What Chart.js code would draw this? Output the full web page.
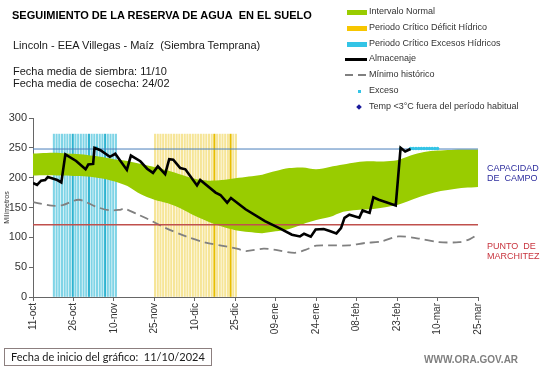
<!DOCTYPE html>
<html lang="es">
<head>
    <meta charset="UTF-8">
    <title>Seguimiento de la reserva de agua en el suelo</title>
    <script src="https://cdn.jsdelivr.net/npm/chart.js@4.4.8/dist/chart.umd.min.js"></script>
    <style>
        html, body {
            margin: 0;
            padding: 0;
            background: #ffffff;
        }
        #wrap {
            position: relative;
            width: 541px;
            height: 368px;
            overflow: hidden;
            font-family: "Liberation Sans", Arial, sans-serif;
            color: #1a1a1a;
        }
        #myChart {
            position: absolute;
            left: 0;
            top: 0;
        }
        .txt {
            position: absolute;
            white-space: nowrap;
        }
        #titulo {
            left: 12px;
            top: 9px;
            font-size: 11px;
            font-weight: bold;
            color: #000;
        }
        #sub {
            left: 13px;
            top: 39px;
            font-size: 11px;
        }
        #fechas {
            left: 13px;
            top: 65px;
            font-size: 11px;
            line-height: 12px;
        }
        #leyenda {
            position: absolute;
            left: 343px;
            top: 4px;
            font-size: 9px;
            color: #333;
            white-space: nowrap;
        }
        .fila {
            position: relative;
            height: 15.8px;
        }
        .fila span.t {
            position: absolute;
            left: 26px;
            top: 2px;
            white-space: nowrap;
        }
        .sw {
            position: absolute;
        }
        .derecha {
            position: absolute;
            left: 487px;
            font-size: 9px;
            line-height: 10px;
            white-space: nowrap;
        }
        #caja {
            position: absolute;
            left: 4px;
            top: 348px;
            width: 200px;
            height: 16px;
            border: 1px solid #8c7f7f;
            font-family: Lato, "Open Sans", sans-serif;
            font-size: 11px;
            line-height: 16px;
            padding-left: 6px;
            white-space: nowrap;
            overflow: hidden;
        }
        #web {
            left: 424px;
            top: 354px;
            font-size: 10px;
            font-weight: bold;
            color: #7f7f7f;
        }
    </style>
</head>
<body>
<div id="wrap">
    <canvas id="myChart" width="541" height="368"></canvas>

    <div class="txt" id="titulo">SEGUIMIENTO DE LA RESERVA DE AGUA&nbsp; EN EL SUELO</div>
    <div class="txt" id="sub">Lincoln - EEA Villegas - Maíz&nbsp; (Siembra Temprana)</div>
    <div class="txt" id="fechas">Fecha media de siembra: 11/10<br>Fecha media de cosecha: 24/02</div>

    <div id="leyenda">
        <div class="fila"><div class="sw" style="left:4px;top:6px;width:20px;height:5px;background:#99cc00"></div><span class="t">Intervalo Normal</span></div>
        <div class="fila"><div class="sw" style="left:4px;top:6px;width:20px;height:5px;background:#f7c600"></div><span class="t">Periodo Crítico Déficit Hídrico</span></div>
        <div class="fila"><div class="sw" style="left:4px;top:6px;width:20px;height:5px;background:#33c4e6"></div><span class="t">Periodo Crítico Excesos Hídricos</span></div>
        <div class="fila"><div class="sw" style="left:2px;top:7px;width:22px;height:2.5px;background:#000"></div><span class="t">Almacenaje</span></div>
        <div class="fila"><div class="sw" style="left:2px;top:7px;width:8px;height:2px;background:#808080"></div><div class="sw" style="left:15px;top:7px;width:8px;height:2px;background:#808080"></div><span class="t">Mínimo histórico</span></div>
        <div class="fila"><div class="sw" style="left:15px;top:7px;width:3px;height:3px;background:#33c4e6"></div><span class="t">Exceso</span></div>
        <div class="fila"><div class="sw" style="left:14px;top:6px;width:4px;height:4px;background:#1a1a9c;transform:rotate(45deg)"></div><span class="t">Temp &lt;3°C fuera del período habitual</span></div>
    </div>

    <div class="derecha" style="top:163px;color:#2e2e9e">CAPACIDAD<br>DE&nbsp; CAMPO</div>
    <div class="derecha" style="top:241px;color:#c8343e">PUNTO&nbsp; DE<br>MARCHITEZ</div>

    <div id="caja">Fecha de inicio del gráfico:&nbsp; 11/10/2024</div>
    <div class="txt" id="web">WWW.ORA.GOV.AR</div>
</div>

<script>

    // eje x: dias desde el 11-oct
    const tickLabels = ['11-oct', '26-oct', '10-nov', '25-nov', '10-dic', '25-dic',
        '09-ene', '24-ene', '08-feb', '23-feb', '10-mar', '25-mar']

    // intervalo normal (banda verde)
    const bandaDias = [0, 5, 10, 15, 20, 25, 30, 35, 40, 45, 50, 55, 60, 65, 70, 75, 80, 85,
        90, 95, 100, 105, 110, 115, 120, 125, 130, 135, 140, 145, 150, 155, 160, 165]
    const bandaSup = [240.5, 241.5, 241.5, 240, 238, 235, 231, 228, 223, 218, 212, 205, 198, 195, 196, 199, 202, 205,
        211, 216, 217, 214, 218, 222, 226, 227.5, 227, 229, 237, 243, 245.5, 246.5, 247, 247]
    const bandaInf = [203.5, 204, 203.5, 203, 202, 199, 194, 186, 172, 163, 157, 148, 136, 126, 118, 112, 109, 107,
        110, 114, 122, 129, 134, 143, 146, 147, 150, 154, 162, 170, 176.5, 180, 183, 184.5]

    // minimo historico
    const minimoDias = [0, 7, 11, 17, 23, 28, 32, 34, 39, 42, 49, 56.5, 64, 71.5, 76, 79, 85.5,
        90, 97, 101, 105, 110, 117, 123, 129, 135.5, 143, 150.5, 158, 162, 165]
    const minimoVal = [159, 153, 154, 163, 152, 145.5, 146, 148, 138, 132, 116, 102, 91, 85, 80.5, 77, 81,
        79, 74, 79, 86, 86.5, 86.5, 90.5, 93, 101.5, 98, 92, 92, 97, 105]

    // almacenaje (linea negra)
    const almDias = [0, 1.5, 3, 4.5, 5.5, 7, 9, 10.5, 12, 16, 19.5, 20.5, 22.3, 22.8, 25, 28.5, 30.5,
        34.8, 36.3, 39.8, 42.3, 44.5, 46.3, 49, 50.5, 52, 54.6, 56.5, 60.8, 62, 67.7, 69.5, 72, 73.4,
        78.8, 86, 91.5, 96, 99, 100.5, 103, 104.8, 107.8, 110, 112.5, 114.2, 115.5, 117.3, 121, 122.2,
        124.8, 126.2, 128.2, 134.5, 136.3, 138, 140]
    const almVal = [191, 188, 195, 196, 201, 199, 196, 192, 239, 228, 214, 222, 223, 250, 246, 235, 240,
        213, 237, 227.5, 215, 208, 219, 206, 231, 230, 216, 214, 187, 196, 175, 171, 158, 166,
        147, 127, 115, 104.5, 101.5, 106, 101, 113, 114, 110.5, 106.5, 115.5, 132.5, 138, 133, 145,
        141, 167, 163, 153.5, 250, 244, 248]

    // exceso (puntos celestes)
    const excesoDias = [23.5, 136.3, 140, 141, 142, 143, 144, 145, 146, 147, 148, 149, 150]
    const excesoVal = [250, 249, 249, 249, 249, 249, 249, 249, 249, 249, 249, 249, 249]

    // periodos criticos (barras)
    const periodoAltura = 273
    const diasExcesos = [8, 9, 10, 11, 12, 13, 14, 15, 16, 17, 18, 19, 20, 21, 22, 23, 24, 25,
        26, 27, 28, 29, 30, 31]
    const diasDeficit = [45, 46, 47, 48, 49, 50, 51, 52, 53, 54, 55, 56, 57, 58, 59, 60, 61, 62,
        63, 64, 65, 66, 67, 68, 69, 70, 71, 72, 73, 74, 75]
    const excesosOscuros = [15, 21, 27]
    const deficitOscuros = [67, 73]

    // referencias
    const capacidadCampo = 248
    const puntoMarchitez = 121
    const diaFin = 165

    const pares = (xs, ys) => xs.map((x, i) => ({x: x, y: ys[i]}))
    const barras = dias => dias.map(d => ({x: d, y: periodoAltura}))

    const ctx = document.getElementById('myChart')
    const chart = new Chart(ctx, {
        type: 'line',
        data: {
            datasets: [
                {
                    label: 'Almacenaje',
                    data: pares(almDias, almVal),
                    borderColor: '#000000',
                    borderWidth: 2.6,
                    pointRadius: 0,
                    tension: 0,
                    order: 0
                },
                {
                    label: 'Exceso',
                    data: pares(excesoDias, excesoVal),
                    showLine: false,
                    pointRadius: 1.8,
                    pointBorderWidth: 0,
                    pointBackgroundColor: '#33c4e6',
                    order: 1
                },
                {
                    label: 'Capacidad de campo',
                    data: [{x: 0, y: capacidadCampo}, {x: diaFin, y: capacidadCampo}],
                    borderColor: '#4a7ebb',
                    borderWidth: 1,
                    pointRadius: 0,
                    order: 2
                },
                {
                    label: 'Punto de marchitez',
                    data: [{x: 0, y: puntoMarchitez}, {x: diaFin, y: puntoMarchitez}],
                    borderColor: '#c0504d',
                    borderWidth: 1.4,
                    pointRadius: 0,
                    order: 3
                },
                {
                    label: 'Mínimo histórico',
                    data: pares(minimoDias, minimoVal),
                    borderColor: '#808080',
                    borderWidth: 1.8,
                    borderDash: [9, 5],
                    pointRadius: 0,
                    tension: 0.3,
                    order: 4
                },
                {
                    label: 'Intervalo Normal',
                    data: pares(bandaDias, bandaSup),
                    borderWidth: 0,
                    borderColor: 'rgba(0,0,0,0)',
                    backgroundColor: '#99cc00',
                    pointRadius: 0,
                    tension: 0.3,
                    fill: '+1',
                    order: 5
                },
                {
                    label: 'inf',
                    data: pares(bandaDias, bandaInf),
                    borderWidth: 0,
                    borderColor: 'rgba(0,0,0,0)',
                    pointRadius: 0,
                    tension: 0.3,
                    fill: false,
                    order: 6
                },
                {
                    type: 'bar',
                    label: 'Periodo Crítico Excesos Hídricos',
                    data: barras(diasExcesos),
                    backgroundColor: c => excesosOscuros.includes(c.raw.x) ? '#2fb3d0' : '#7fd4e6',
                    barThickness: 1.4,
                    order: 7
                },
                {
                    type: 'bar',
                    label: 'Periodo Crítico Déficit Hídrico',
                    data: barras(diasDeficit),
                    backgroundColor: c => deficitOscuros.includes(c.raw.x) ? '#e8be00' : '#f6e597',
                    barThickness: 1.4,
                    order: 8
                }
            ]
        },
        options: {
            responsive: false,
            animation: false,
            layout: {
                padding: {left: 0, top: 118, right: 63, bottom: 0}
            },
            plugins: {
                legend: {display: false},
                tooltip: {enabled: false}
            },
            scales: {
                x: {
                    type: 'linear',
                    min: 0,
                    max: diaFin,
                    offset: false,
                    grid: {
                        drawOnChartArea: false,
                        offset: false,
                        color: '#666',
                        tickLength: 4
                    },
                    border: {color: '#666'},
                    ticks: {
                        stepSize: 15,
                        autoSkip: false,
                        maxRotation: 90,
                        minRotation: 90,
                        padding: 2,
                        color: '#333',
                        font: {family: 'Liberation Sans', size: 10},
                        callback: v => tickLabels[Math.round(v / 15)]
                    },
                    afterFit: s => { s.height = 71 }
                },
                y: {
                    min: 0,
                    max: 300,
                    grid: {
                        drawOnChartArea: false,
                        color: '#666',
                        tickLength: 4
                    },
                    border: {color: '#666'},
                    ticks: {
                        stepSize: 50,
                        padding: 2,
                        color: '#333',
                        font: {family: 'Liberation Sans', size: 11}
                    },
                    title: {
                        display: true,
                        text: 'Milímetros',
                        color: '#333',
                        padding: {top: 3, bottom: 0},
                        font: {family: 'Liberation Sans', size: 7}
                    },
                    afterFit: s => { s.width = 33 }
                }
            }
        }
    })

</script>
</body>
</html>
